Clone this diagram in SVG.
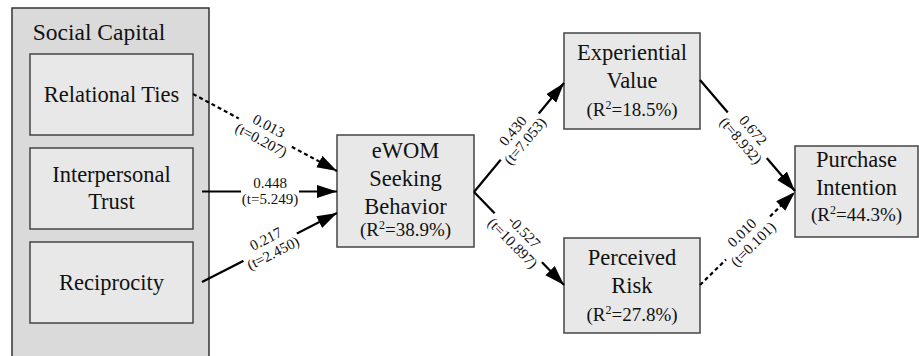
<svg xmlns="http://www.w3.org/2000/svg" width="919" height="356" viewBox="0 0 919 356">
<defs>
<marker id="ah" markerUnits="userSpaceOnUse" markerWidth="22" markerHeight="14" refX="20" refY="6.5" orient="auto">
<path d="M0,0 L20,6.5 L0,13 z" fill="#000"/>
</marker>
<style>
.box{fill:#e8e8e8;stroke:#444;stroke-width:1.5}
.outer{fill:#dadada;stroke:#333;stroke-width:1.5}
.nt{font-family:"Liberation Serif","Times New Roman",serif;font-size:22.5px;fill:#111;text-anchor:middle}
.rt{font-family:"Liberation Serif","Times New Roman",serif;font-size:19px;fill:#111;text-anchor:middle}
.sup{font-size:12px}
.lb{font-family:"Liberation Serif","Times New Roman",serif;font-size:15px;fill:#111;text-anchor:middle}
.ln{stroke:#000;stroke-width:2.2;fill:none;marker-end:url(#ah)}
.dash{stroke-dasharray:4,3}
.bg{fill:#fff}
</style>
</defs>
<rect width="919" height="356" fill="#fff"/>

<g id="social-capital">
<rect class="outer" x="12" y="8" width="197" height="360"/>
<text class="nt" x="99" y="40" style="font-size:23.5px">Social Capital</text>
</g>

<g id="relational-ties">
<rect class="box" x="30" y="54" width="163" height="81"/>
<text class="nt" x="111.5" y="102">Relational Ties</text>
</g>
<g id="interpersonal-trust">
<rect class="box" x="30" y="148" width="163" height="81"/>
<text class="nt" x="111.5" y="182">Interpersonal</text>
<text class="nt" x="111.5" y="209">Trust</text>
</g>
<g id="reciprocity">
<rect class="box" x="30" y="242" width="163" height="81"/>
<text class="nt" x="111.5" y="290">Reciprocity</text>
</g>

<g id="ewom">
<rect class="box" x="337" y="135" width="137" height="112"/>
<text class="nt" x="405.5" y="158">eWOM</text>
<text class="nt" x="405.5" y="186">Seeking</text>
<text class="nt" x="405.5" y="214">Behavior</text>
<text class="rt" x="405.5" y="236">(R<tspan class="sup" dy="-7">2</tspan><tspan dy="7">=38.9%)</tspan></text>
</g>

<g id="experiential-value">
<rect class="box" x="564" y="33" width="136" height="96"/>
<text class="nt" x="632" y="60">Experiential</text>
<text class="nt" x="632" y="88">Value</text>
<text class="rt" x="632" y="116">(R<tspan class="sup" dy="-7">2</tspan><tspan dy="7">=18.5%)</tspan></text>
</g>

<g id="perceived-risk">
<rect class="box" x="564" y="238" width="136" height="95"/>
<text class="nt" x="632" y="265">Perceived</text>
<text class="nt" x="632" y="293">Risk</text>
<text class="rt" x="632" y="321">(R<tspan class="sup" dy="-7">2</tspan><tspan dy="7">=27.8%)</tspan></text>
</g>

<g id="purchase-intention">
<rect class="box" x="795" y="146" width="123" height="91"/>
<text class="nt" x="856.5" y="167">Purchase</text>
<text class="nt" x="856.5" y="195">Intention</text>
<text class="rt" x="856.5" y="221">(R<tspan class="sup" dy="-7">2</tspan><tspan dy="7">=44.3%)</tspan></text>
</g>

<g id="connectors">
<line class="ln dash" x1="193" y1="94" x2="337" y2="171"/>
<line class="ln" x1="202" y1="191.5" x2="337" y2="191.5"/>
<line class="ln" x1="202" y1="282" x2="337" y2="213"/>
<line class="ln" x1="474" y1="192" x2="564" y2="83"/>
<line class="ln" x1="474" y1="192" x2="564" y2="285"/>
<line class="ln" x1="700" y1="80" x2="795" y2="191"/>
<line class="ln dash" x1="700" y1="285" x2="795" y2="192"/>

<g transform="translate(265,133) rotate(28)">
<rect class="bg" x="-30" y="-15" width="60" height="32"/>
<text class="lb" x="0" y="-3">0.013</text>
<text class="lb" x="0" y="13">(t=0.207)</text>
</g>
<g transform="translate(270,191.5)">
<rect class="bg" x="-29" y="-15" width="58" height="32"/>
<text class="lb" x="0" y="-4">0.448</text>
<text class="lb" x="0" y="12.5">(t=5.249)</text>
</g>
<g transform="translate(269.5,246) rotate(-27)">
<rect class="bg" x="-30" y="-15" width="60" height="32"/>
<text class="lb" x="0" y="-3">0.217</text>
<text class="lb" x="0" y="13">(t=2.450)</text>
</g>
<g transform="translate(519,136) rotate(-50)">
<rect class="bg" x="-30" y="-15" width="60" height="32"/>
<text class="lb" x="0" y="-3">0.430</text>
<text class="lb" x="0" y="13">(t=7.053)</text>
</g>
<g transform="translate(518.5,237.5) rotate(45.6)">
<rect class="bg" x="-34" y="-15" width="68" height="32"/>
<text class="lb" x="0" y="-3">-0.527</text>
<text class="lb" x="0" y="13">(t=10.897)</text>
</g>
<g transform="translate(747,135.5) rotate(49.4)">
<rect class="bg" x="-30" y="-15" width="60" height="32"/>
<text class="lb" x="0" y="-3">0.672</text>
<text class="lb" x="0" y="13">(t=8.932)</text>
</g>
<g transform="translate(747.5,238.5) rotate(-44.4)">
<rect class="bg" x="-30" y="-15" width="60" height="32"/>
<text class="lb" x="0" y="-3">0.010</text>
<text class="lb" x="0" y="13">(t=0.101)</text>
</g>
</g>
</svg>
